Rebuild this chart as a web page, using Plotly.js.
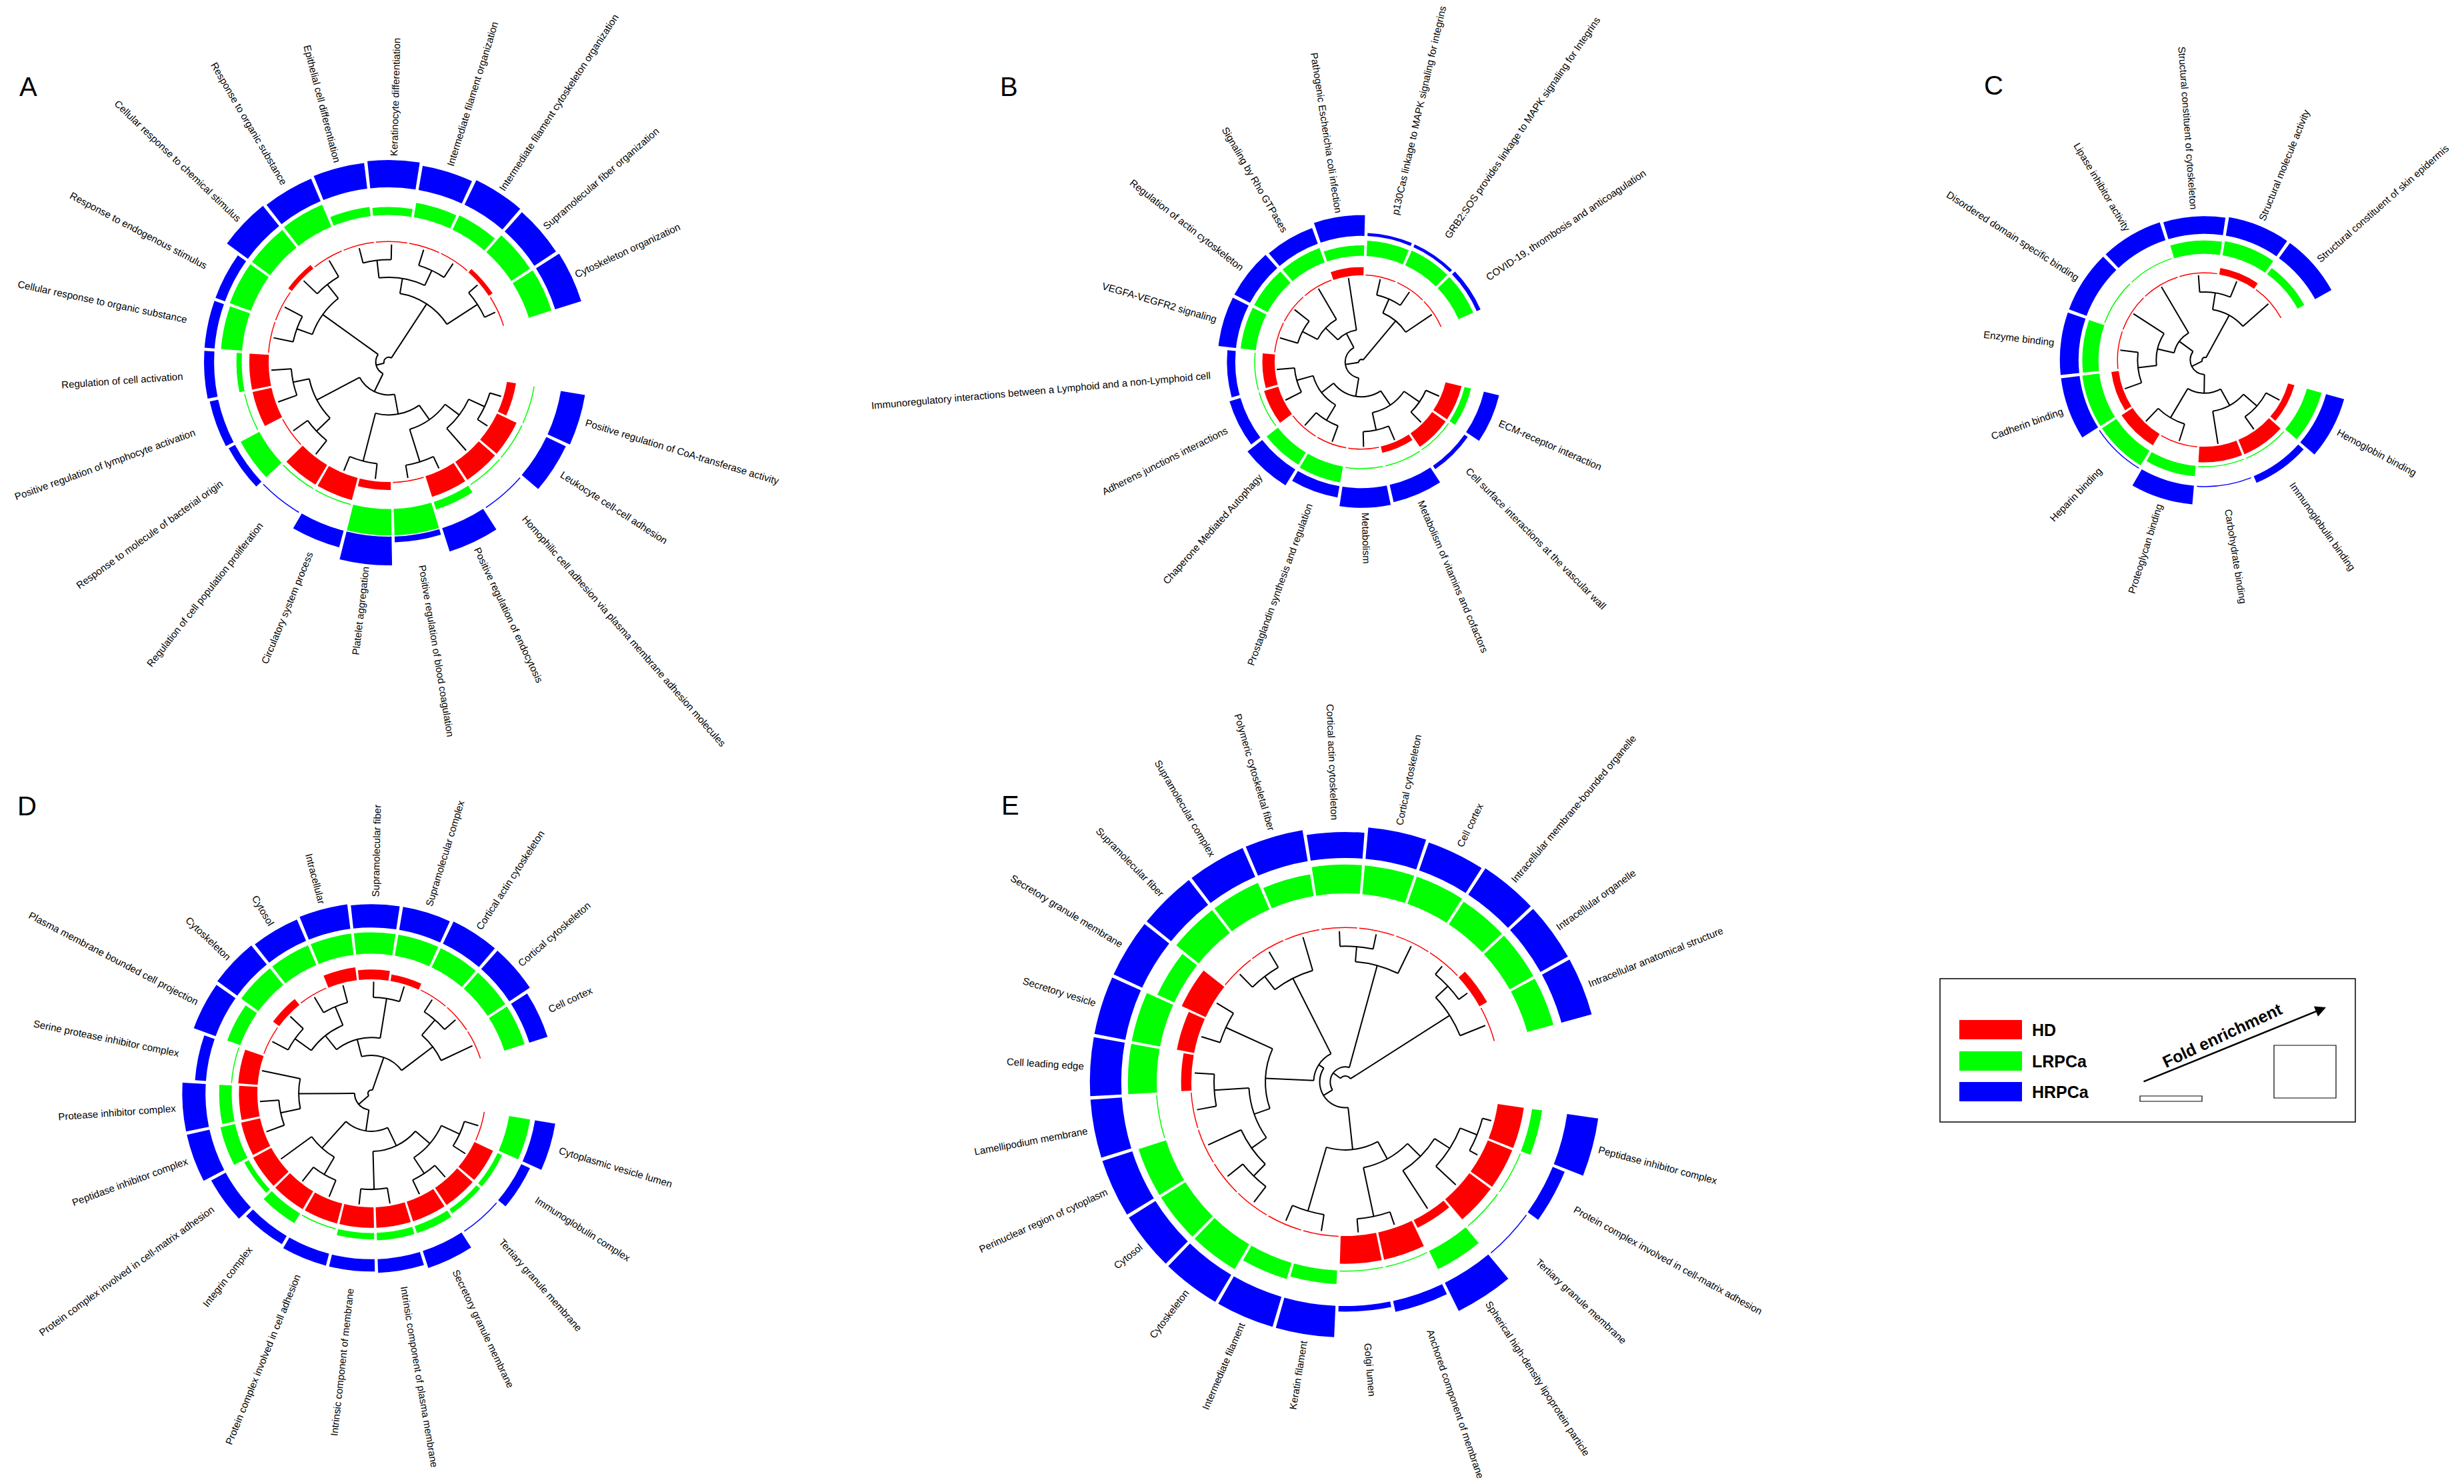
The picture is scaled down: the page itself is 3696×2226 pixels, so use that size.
<!DOCTYPE html>
<html>
<head>
<meta charset="utf-8">
<script src="https://cdn.plot.ly/plotly-3.0.1.min.js"></script>
<style>
  html, body { margin: 0; padding: 0; background: #fff; }
  #chart { width: 3696px; height: 2226px; }
</style>
</head>
<body>
<div id="chart"></div>
<script>
// ---------- A: biological process ----------
var termsA = ["Cytoskeleton organization", "Supramolecular fiber organization",
  "Intermediate filament cytoskeleton organization", "Intermediate filament organization",
  "Keratinocyte differentiation", "Epithelial cell differentiation", "Response to organic substance",
  "Cellular response to chemical stimulus", "Response to endogenous stimulus",
  "Cellular response to organic substance", "Regulation of cell activation",
  "Positive regulation of lymphocyte activation", "Response to molecule of bacterial origin",
  "Regulation of cell population proliferation", "Circulatory system process", "Platelet aggregation",
  "Positive regulation of blood coagulation", "Positive regulation of endocytosis",
  "Homophilic cell adhesion via plasma membrane adhesion molecules", "Leukocyte cell-cell adhesion",
  "Positive regulation of CoA-transferase activity"];
var hdA = [0, 0.2, 0, 0, 0, 0, 0, 0.2, 0, 0, 0.85, 0.85, 0, 1.0, 1.0, 0.35, 0, 0.95, 0.95, 0.95, 0.4];
var lrA = [0.9, 0.85, 0.6, 0.55, 0.3, 0.35, 0.9, 0.85, 0.85, 0.8, 0.2, 0, 0.8, 0, 0, 1.0, 1.0, 0.3, 0, 0, 0];
var hrA = [0.95, 0.9, 0.95, 0.85, 0.95, 0.9, 0.85, 0.9, 0.35, 0.35, 0.35, 0.3, 0.25, 0, 0.6, 1.0, 0.2, 0.85, 0, 0.75, 0.85];
// [merge height, left, right]; numbers are term indices
var treeA = [0.96,
  [0.41, [0.10, 0, 1], [0.28, [0.14, 2, 3], [0.13, 4, 5]]],
  [0.89,
    [0.31, [0.16, 6, 7], [0.17, 8, 9]],
    [0.72,
      [0.31, [0.17, 10, 11], [0.15, 12, 13]],
      [0.55, [0.13, 14, 15], [0.40, [0.11, 16, 17], [0.25, 18, [0.10, 19, 20]]]]]]];

// ---------- B: pathways ----------
var termsB = ["COVID-19, thrombosis and anticoagulation",
  "GRB2:SOS provides linkage to MAPK signaling for Integrins",
  "p130Cas linkage to MAPK signaling for integrins", "Pathogenic Escherichia coli infection",
  "Signaling by Rho GTPases", "Regulation of actin cytoskeleton", "VEGFA-VEGFR2 signaling",
  "Immunoregulatory interactions between a Lymphoid and a non-Lymphoid cell",
  "Adherens junctions interactions", "Chaperone Mediated Autophagy",
  "Prostaglandin synthesis and regulation", "Metabolism", "Metabolism of vitamins and cofactors",
  "Cell surface interactions at the vascular wall", "ECM-receptor interaction"];
var hdB = [0, 0, 0, 0.5, 0, 0, 0, 0.75, 0.9, 0, 0, 0, 0.4, 1.0, 1.0];
var lrB = [0.85, 0.85, 0.8, 0.55, 0.8, 0.8, 0.8, 0, 0, 0.75, 0.85, 0, 0, 0, 0.35];
var hrB = [0.2, 0.15, 0.15, 1.0, 0.8, 0.85, 0.85, 0.4, 0.55, 0.9, 0.55, 0.95, 0.85, 0.2, 0.75];
var treeB = [0.97,
  [0.37, 0, [0.19, 1, 2]],
  [0.81,
    [0.62, 3, [0.42, 4, [0.22, 5, 6]]],
    [0.59, [0.41, [0.21, 7, 8], [0.20, 9, 10]], [0.39, [0.18, 11, 12], [0.17, 13, 14]]]]];

// ---------- C: molecular function ----------
var termsC = ["Structural constituent of skin epidermis", "Structural molecule activity",
  "Structural constituent of cytoskeleton", "Lipase inhibitor activity",
  "Disordered domain specific binding", "Enzyme binding", "Cadherin binding", "Heparin binding",
  "Proteoglycan binding", "Carbohydrate binding", "Immunoglobulin binding", "Hemoglobin binding"];
var hdC = [0, 0.4, 0, 0, 0, 0, 0.45, 0.8, 0, 0.95, 0.95, 0.4];
var lrC = [0.4, 0.75, 0.7, 0, 0, 0.85, 0.9, 0.9, 0.55, 0, 0, 0.8];
var hrC = [0.9, 0.9, 0.85, 0.9, 0.9, 0.9, 0.9, 0, 0.9, 0, 0.35, 0.9];
var treeC = [0.97,
  [0.40, 0, [0.20, 1, 2]],
  [0.83,
    [0.63, 3, [0.43, 4, [0.21, 5, 6]]],
    [0.61, [0.21, 7, 8], [0.39, 9, [0.18, 10, 11]]]]];

// ---------- D: cellular component ----------
var termsD = ["Cell cortex", "Cortical cytoskeleton", "Cortical actin cytoskeleton",
  "Supramolecular complex", "Supramolecular fiber", "Intracellular", "Cytosol", "Cytoskeleton",
  "Plasma membrane bounded cell projection", "Serine protease inhibitor complex",
  "Protease inhibitor complex", "Peptidase inhibitor complex",
  "Protein complex involved in cell-matrix adhesion", "Integrin complex",
  "Protein complex involved in cell adhesion", "Intrinsic component of membrane",
  "Intrinsic component of plasma membrane", "Secretory granule membrane",
  "Tertiary granule membrane", "Immunoglobulin complex", "Cytoplasmic vesicle lumen"];
var hdD = [0, 0, 0, 0.3, 0.45, 0.6, 0, 0.35, 0, 0.9, 0.85, 0.9, 0.95, 0.95, 0.95, 0.95, 0.95, 0.95, 0.95, 0.95, 0];
var lrD = [0.85, 0.85, 0.85, 0.85, 0.85, 0.85, 0.85, 0.85, 0.55, 0, 0.5, 0.6, 0.2, 0.45, 0, 0.25, 0.3, 0.3, 0.2, 0.2, 0.85];
var hrD = [0.7, 0.9, 0.9, 0.85, 0.85, 0.9, 0.85, 0.9, 0.85, 0.4, 0.85, 0.85, 0.6, 0.35, 0.45, 0.45, 0.5, 0.65, 0, 0.35, 0.75];
var treeD = [0.97,
  [0.66, [0.31, 0, [0.13, 1, 2]], [0.50, [0.14, 3, 4], [0.34, [0.16, 5, 6], [0.16, 7, 8]]]],
  [0.85,
    [0.35, 9, [0.17, 10, 11]],
    [0.66, [0.34, 12, [0.16, 13, 14]],
      [0.48, [0.14, 15, 16], [0.31, [0.14, 17, 18], [0.13, 19, 20]]]]]];

// ---------- E: cellular component ----------
var termsE = ["Intracellular anatomical structure", "Intracellular organelle",
  "Intracellular membrane-bounded organelle", "Cell cortex", "Cortical cytoskeleton",
  "Cortical actin cytoskeleton", "Polymeric cytoskeletal fiber", "Supramolecular complex",
  "Supramolecular fiber", "Secretory granule membrane", "Secretory vesicle", "Cell leading edge",
  "Lamellipodium membrane", "Perinuclear region of cytoplasm", "Cytosol", "Cytoskeleton",
  "Intermediate filament", "Keratin filament", "Golgi lumen", "Anchored component of membrane",
  "Spherical high-density lipoprotein particle", "Tertiary granule membrane",
  "Protein complex involved in cell-matrix adhesion", "Peptidase inhibitor complex"];
var hdE = [0, 0.3, 0, 0, 0, 0, 0, 0, 0, 0.9, 0.6, 0.35, 0, 0, 0, 0, 0, 0, 0.95, 0.95, 0.3, 0.9, 0.9, 0.9];
var lrE = [0.8, 0.8, 0.8, 0.85, 0.85, 0.85, 0.65, 0.85, 0.85, 0.55, 0.85, 0.85, 0, 0.85, 0.85, 0.85, 0.5, 0.4, 0, 0, 0.6, 0, 0, 0.3];
var hrE = [0.85, 0.85, 0.85, 0.8, 0.85, 0.7, 0.85, 0.85, 0.85, 0.85, 0.85, 0.85, 0.85, 0.85, 0.85, 0.85, 0.85, 0.85, 0.15, 0.3, 0.85, 0, 0.35, 0.85];
var treeE = [0.96,
  [0.18, 0, [0.07, 1, 2]],
  [0.90,
    [0.20, 3, [0.10, 4, 5]],
    [0.83,
      [0.79, [0.23, 6, [0.12, 7, 8]],
        [0.47, [0.13, 9, 10], [0.36, [0.13, 11, 12], [0.24, 13, [0.13, 14, 15]]]]],
      [0.55, [0.11, 16, 17], [0.42, [0.09, 18, 19], [0.30, 20, [0.18, 21, [0.06, 22, 23]]]]]]]];

var groups = ["HD", "LRPCa", "HRPCa"];
var groupColors = ["#ff0000", "#00ff00", "#0000ff"];

// ---------- layout of the panels (pixels) ----------
var W = 3696, H = 2226;
var panels = [
  {tag: "A", terms: termsA, vals: [hdA, lrA, hrA], tree: treeA, cx: 583, cy: 543, R: 180, start: 25, step: 15.9, lx: 42, ly: 130},
  {tag: "B", terms: termsB, vals: [hdB, lrB, hrB], tree: treeB, cx: 2042, cy: 543, R: 130, start: 33.9, step: 21.6, lx: 1513, ly: 130},
  {tag: "C", terms: termsC, vals: [hdC, lrC, hrC], tree: treeC, cx: 3307, cy: 540, R: 130, start: 41.4, step: 26.4, lx: 2990, ly: 128},
  {tag: "D", terms: termsD, vals: [hdD, lrD, hrD], tree: treeD, cx: 557, cy: 1640, R: 171, start: 25.2, step: 15.9, lx: 40, ly: 1209},
  {tag: "E", terms: termsE, vals: [hdE, lrE, hrE], tree: treeE, cx: 2018, cy: 1623, R: 231, start: 22, step: 14.05, lx: 1515, ly: 1208}
];
var LEAF_R = 0.98;
var trackBase = [1.0, 1.225, 1.455];
var trackHeight = [0.19, 0.22, 0.24];
var RMAX = 1.72;
var labelFont = '"Liberation Sans", Arial, sans-serif';
var labelSize = 15;

var ctx = document.createElement("canvas").getContext("2d");
ctx.font = labelSize + "px " + labelFont;

var data = [];
var annotations = [];
var shapes = [];
var layout = {
  width: W, height: H,
  margin: {l: 0, r: 0, t: 0, b: 0},
  paper_bgcolor: "#ffffff",
  showlegend: false
};

function px(x) { return x / W; }
function py(y) { return 1 - y / H; }

panels.forEach(function (p, k) {
  var sub = k === 0 ? "polar" : "polar" + (k + 1);
  var angles = p.terms.map(function (t, i) { return p.start + p.step * i; });
  var gapDeg = 4.5 / (1.45 * p.R) * 180 / Math.PI;
  var minH = 1.5 / p.R;

  // rings: HD, LRPCa, HRPCa
  p.vals.forEach(function (v, g) {
    data.push({
      type: "barpolar", subplot: sub,
      theta: angles,
      r: v.map(function (x) { return Math.max(x * trackHeight[g], minH); }),
      base: trackBase[g],
      width: p.step - gapDeg,
      marker: {color: groupColors[g], line: {width: 0}},
      name: groups[g], hoverinfo: "skip", showlegend: false
    });
  });

  // dendrogram
  var lineW = 2 / p.R;
  var rad = {r: [], theta: []};
  var arcs = {r: [], theta: [], width: [], base: []};
  function walk(node) {
    if (typeof node === "number") return {t: angles[node], r: LEAF_R};
    var a = walk(node[1]), b = walk(node[2]);
    var r = LEAF_R * (1 - node[0]);
    [a, b].forEach(function (c) {
      rad.r.push(r, c.r, null);
      rad.theta.push(c.t, c.t, null);
    });
    arcs.theta.push((a.t + b.t) / 2);
    arcs.width.push(Math.abs(b.t - a.t));
    arcs.base.push(r - lineW / 2);
    arcs.r.push(lineW);
    return {t: (a.t + b.t) / 2, r: r};
  }
  walk(p.tree);
  data.push({
    type: "barpolar", subplot: sub,
    theta: arcs.theta, r: arcs.r, base: arcs.base, width: arcs.width,
    marker: {color: "#000000", line: {width: 0}},
    hoverinfo: "skip", showlegend: false
  });
  data.push({
    type: "scatterpolar", subplot: sub, mode: "lines",
    r: rad.r, theta: rad.theta, connectgaps: false,
    line: {color: "#000000", width: 2},
    hoverinfo: "skip", showlegend: false
  });

  var half = RMAX * p.R;
  layout[sub] = {
    domain: {x: [px(p.cx - half), px(p.cx + half)], y: [py(p.cy + half), py(p.cy - half)]},
    bgcolor: "rgba(0,0,0,0)",
    barmode: "overlay",
    radialaxis: {visible: false, range: [0, RMAX]},
    angularaxis: {visible: false, direction: "counterclockwise", rotation: 0}
  };

  // term labels, radial
  var rl = 1.65 * p.R + 12;
  p.terms.forEach(function (txt, i) {
    var th = angles[i];
    var a = th * Math.PI / 180;
    var L = ctx.measureText(txt).width;
    var d = rl + L / 2;
    var ang = Math.cos(a) >= 0 ? -th : 180 - th;
    while (ang > 180) ang -= 360;
    while (ang <= -180) ang += 360;
    annotations.push({
      xref: "paper", yref: "paper",
      x: px(p.cx + d * Math.cos(a)), y: py(p.cy - d * Math.sin(a)),
      text: txt, showarrow: false, textangle: ang,
      xanchor: "center", yanchor: "middle",
      font: {family: labelFont, size: labelSize, color: "#000000"}
    });
  });

  // panel letter
  annotations.push({
    xref: "paper", yref: "paper", x: px(p.lx), y: py(p.ly),
    text: p.tag, showarrow: false, xanchor: "center", yanchor: "middle",
    font: {family: "Liberation Sans, Arial, sans-serif", size: 40, color: "#000000"}
  });
});

// ---------- legend box ----------
function rect(x0, y0, x1, y1, fill, lineW) {
  shapes.push({
    type: "rect", xref: "paper", yref: "paper",
    x0: px(x0), x1: px(x1), y0: py(y1), y1: py(y0),
    fillcolor: fill, line: {color: "#000000", width: lineW}
  });
}
rect(2910, 1468, 3533, 1683, "rgba(0,0,0,0)", 1.5);
var swatchY = [1530, 1577, 1623];
groups.forEach(function (g, i) {
  rect(2939, swatchY[i], 3033, swatchY[i] + 29, groupColors[i], 0);
  annotations.push({
    xref: "paper", yref: "paper", x: px(3046), y: py(swatchY[i] + 15),
    text: "<b>" + g + "</b>", showarrow: false, xanchor: "left", yanchor: "middle",
    font: {family: "Liberation Sans, Arial, sans-serif", size: 25, color: "#000000"}
  });
});
rect(3210, 1644, 3303, 1652, "#ffffff", 1.2);
rect(3411, 1568, 3504, 1647, "#ffffff", 1.2);
annotations.push({
  xref: "paper", yref: "paper", x: px(3489), y: py(1511),
  ax: -275, ay: 112, text: "", showarrow: true,
  arrowhead: 2, arrowsize: 1.3, arrowwidth: 2.5, arrowcolor: "#000000"
});
annotations.push({
  xref: "paper", yref: "paper", x: px(3333), y: py(1553),
  text: "<b>Fold enrichment</b>", showarrow: false, textangle: -25,
  xanchor: "center", yanchor: "middle",
  font: {family: "Liberation Sans, Arial, sans-serif", size: 25, color: "#000000"}
});

layout.annotations = annotations;
layout.shapes = shapes;

Plotly.newPlot("chart", data, layout, {displayModeBar: false, staticPlot: true});
</script>
</body>
</html>
